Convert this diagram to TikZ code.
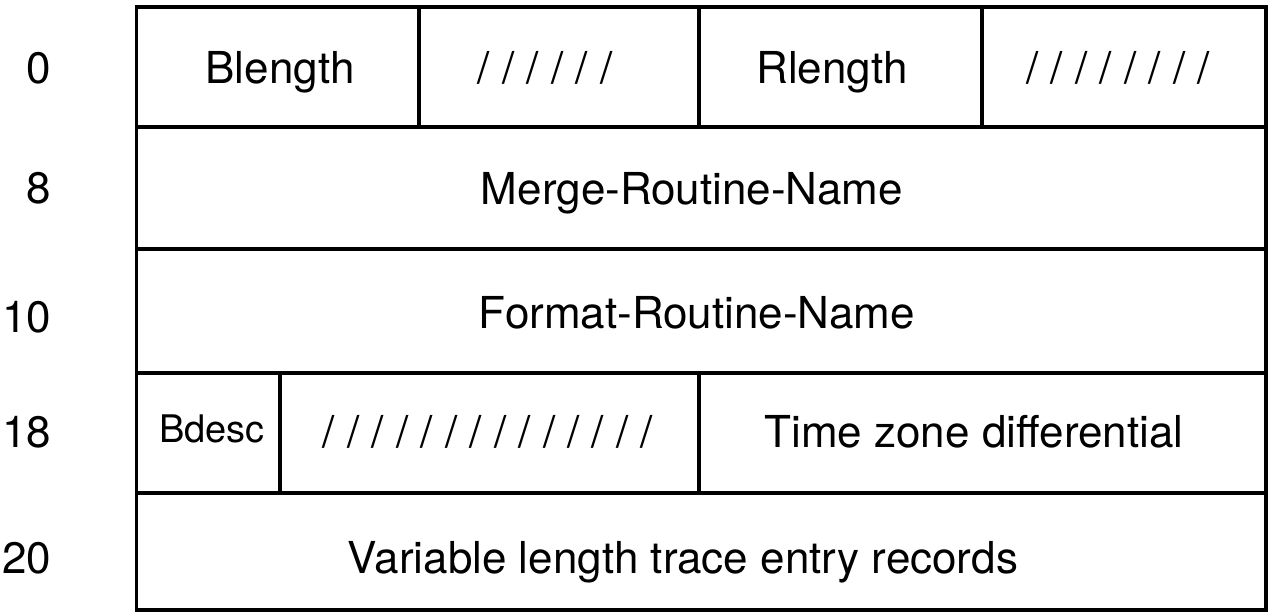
\documentclass[tikz,border=0pt]{standalone}
\usepackage{fontspec}
\setmainfont{TeX Gyre Heros}
\begin{document}
\begin{tikzpicture}[x=0.5pt, y=-0.5pt, line width=1.8pt,
    field/.style={anchor=base, font=\fontsize{22}{26}\selectfont},
    offset/.style={anchor=base east, inner sep=0pt, font=\fontsize{22}{26}\selectfont}]
    \useasboundingbox (0,0) rectangle (1269,612);
    \draw (136.5,7) rectangle (1266,610);
    \draw (136.5,127) -- (1266,127);
    \draw (136.5,249) -- (1266,249);
    \draw (136.5,373) -- (1266,373);
    \draw (136.5,493) -- (1266,493);
    \draw (419,7) -- (419,127);
    \draw (699,7) -- (699,127);
    \draw (982,7) -- (982,127);
    \draw (280,373) -- (280,493);
    \draw (699,373) -- (699,493);

    \node[offset] (off0) at (53,83) {0};
    \node[offset] (off8) at (53,203) {8};
    \node[offset] (off10) at (53,332) {10};
    \node[offset] (off18) at (53,447) {18};
    \node[offset] (off20) at (53,573) {20};

    \node[field] (blength) at (280,83) {Blength};
    \node[field] (pad1) at (545,83) {/ / / / / /};
    \node[field] (rlength) at (832,83) {Rlength};
    \node[field] (pad2) at (1118,83) {/ / / / / / / /};
    \node[field] (merge) at (692,204) {Merge-Routine-Name};
    \node[field] (format) at (697,328) {Format-Routine-Name};
    \node[field, font=\fontsize{19}{23}\selectfont] (bdesc) at (212,442) {Bdesc};
    \node[field] (pad3) at (488,447) {/ / / / / / / / / / / / / /};
    \node[field] (tzone) at (974,447) {Time zone differential};
    \node[field] (records) at (683,573) {Variable length trace entry records};
\end{tikzpicture}
\end{document}
